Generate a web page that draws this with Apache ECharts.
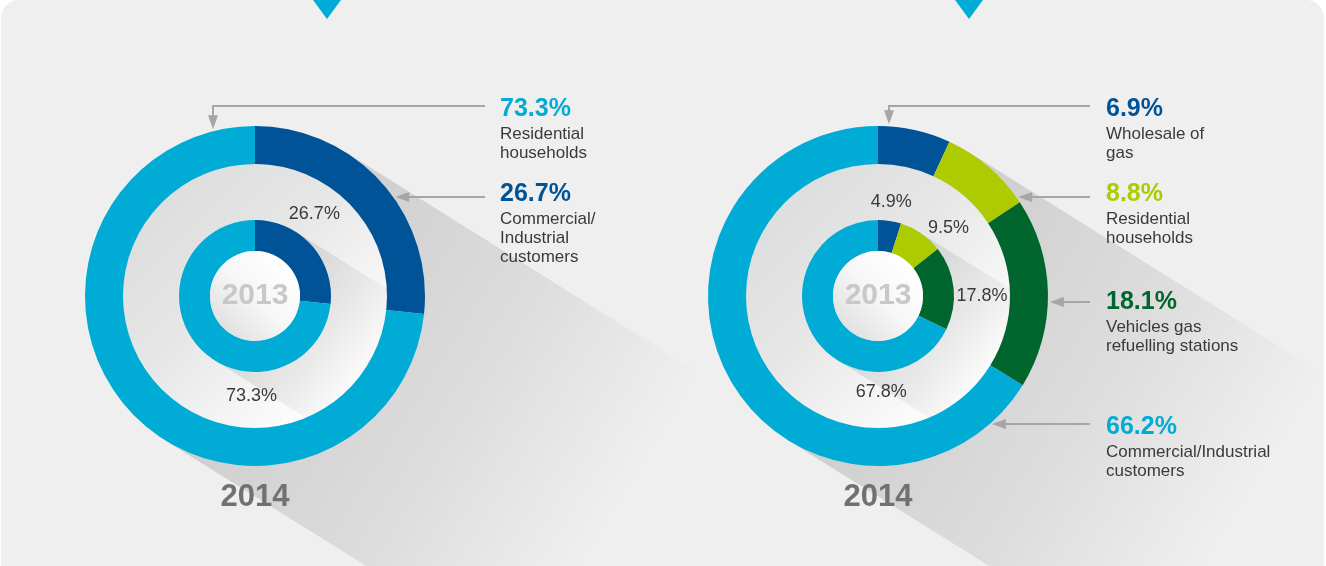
<!DOCTYPE html>
<html>
<head>
<meta charset="utf-8">
<script src="https://cdn.jsdelivr.net/npm/echarts@6/dist/echarts.min.js"></script>
<style>
  html, body { margin: 0; padding: 0; background: #fff; }
  #chart { width: 1326px; height: 566px; }
</style>
</head>
<body>
<div id="chart"></div>
<script>
// gas sales by customer type (left) and by business segment (right), % of total
const leftCategories = ['Commercial/\nIndustrial\ncustomers', 'Residential\nhouseholds']
const left2014 = [26.7, 73.3]
const left2013 = [26.7, 73.3]

const rightCategories = ['Wholesale of\ngas', 'Residential\nhouseholds', 'Vehicles gas\nrefuelling stations', 'Commercial/Industrial\ncustomers']
const right2014 = [6.9, 8.8, 18.1, 66.2]
const right2013 = [4.9, 9.5, 17.8, 67.8]

const years = ['2013', '2014']

const CYAN = '#00acd5'
const leftColors = ['#005396', CYAN]
const rightColors = ['#005396', '#adcb00', '#00662d', CYAN]

const R_OUT = [132, 170]
const R_IN = [45, 76]
const SHADOW_ANGLE = 32 * Math.PI / 180

const charts = [{
  center: [255, 296], cats: leftCategories, v14: left2014, v13: left2013, colors: leftColors,
  textX: 500, lineX: 485, triX: 327,
  callouts: [{ i: 1, y: 106, ty: 109, elbowX: 213 }, { i: 0, y: 197, ty: 194 }],
  labelPos: [[36, 101], [182, 100]]
}, {
  center: [878, 296], cats: rightCategories, v14: right2014, v13: right2013, colors: rightColors,
  textX: 1106, lineX: 1090, triX: 969,
  callouts: [{ i: 0, y: 106, ty: 109, elbowX: 889 }, { i: 1, y: 197, ty: 194 },
    { i: 2, y: 302, ty: 302 }, { i: 3, y: 424, ty: 427 }],
  labelPos: [[8, 95], [46, 98], [90, 104], [178, 96]]
}]

const FONT = '"Liberation Sans", Arial, sans-serif'
const ARROW = '#a6a6a6'

const longShadow = (cx, cy, r, len, alpha, z) => {
  const dx = Math.cos(SHADOW_ANGLE), dy = Math.sin(SHADOW_ANGLE)
  const nx = Math.sin(SHADOW_ANGLE), ny = -Math.cos(SHADOW_ANGLE)
  return {
    type: 'polygon', z, silent: true,
    shape: { points: [
      [cx + r * nx, cy + r * ny], [cx + r * nx + len * dx, cy + r * ny + len * dy],
      [cx - r * nx + len * dx, cy - r * ny + len * dy], [cx - r * nx, cy - r * ny]
    ] },
    style: { fill: {
      type: 'linear', global: true, x: cx, y: cy, x2: cx + len * dx, y2: cy + len * dy,
      colorStops: [
        { offset: 0, color: `rgba(0,0,0,${alpha})` },
        { offset: 0.55, color: `rgba(0,0,0,${alpha * 0.55})` },
        { offset: 1, color: 'rgba(0,0,0,0)' }
      ]
    } }
  }
}

const graphic = [{
  type: 'rect', z: 1, silent: true,
  shape: { x: 1, y: 0, width: 1323, height: 600, r: 18 },
  style: { fill: '#efefef' }
}]
const series = []

charts.forEach((c) => {
  const [cx, cy] = c.center
  graphic.push({
    type: 'polygon', z: 2, silent: true,
    shape: { points: [[c.triX - 14, 0], [c.triX + 14, 0], [c.triX, 19]] },
    style: { fill: CYAN }
  })
  graphic.push(longShadow(cx, cy, R_OUT[1], 420, 0.14, 2))
  graphic.push({
    type: 'circle', z: 3, silent: true,
    shape: { cx, cy, r: R_OUT[0] + 1 },
    style: { fill: {
      type: 'linear', global: true, x: cx - 110, y: cy - 110, x2: cx + 95, y2: cy + 95,
      colorStops: [{ offset: 0, color: '#dbdcdc' }, { offset: 0.45, color: '#e6e6e6' }, { offset: 1, color: '#ffffff' }]
    } }
  })
  graphic.push(longShadow(cx, cy, R_IN[1], 150, 0.1, 4))
  graphic.push({
    type: 'circle', z: 11, silent: true,
    shape: { cx, cy, r: R_IN[0] },
    style: { fill: {
      type: 'linear', global: true, x: cx + 30, y: cy - 30, x2: cx - 40, y2: cy + 40,
      colorStops: [{ offset: 0, color: '#ffffff' }, { offset: 0.45, color: '#f6f6f6' }, { offset: 1, color: '#dcdcdc' }]
    } }
  })
  graphic.push({
    type: 'text', z: 12, silent: true,
    style: { text: years[0], x: cx, y: cy, align: 'center', verticalAlign: 'middle',
      fontFamily: FONT, fontWeight: 'bold', fontSize: 30, fill: '#c8c8c8' }
  })
  graphic.push({
    type: 'text', z: 12, silent: true,
    style: { text: years[1], x: cx, y: 497, align: 'center', verticalAlign: 'middle',
      fontFamily: FONT, fontWeight: 'bold', fontSize: 31, fill: '#717171' }
  })

  // callouts: arrow to the outer ring, value and category
  c.callouts.forEach((co) => {
    if (co.elbowX !== undefined) {
      const tipY = cy - Math.sqrt(R_OUT[1] ** 2 - (co.elbowX - cx) ** 2) - 2
      graphic.push({
        type: 'polyline', z: 12, silent: true,
        shape: { points: [[c.lineX, co.y], [co.elbowX, co.y], [co.elbowX, tipY - 12]] },
        style: { stroke: ARROW, lineWidth: 2, fill: null }
      })
      graphic.push({
        type: 'polygon', z: 12, silent: true,
        shape: { points: [[co.elbowX - 5, tipY - 14], [co.elbowX + 5, tipY - 14], [co.elbowX, tipY]] },
        style: { fill: ARROW }
      })
    } else {
      const tipX = cx + Math.sqrt(R_OUT[1] ** 2 - (co.y - cy) ** 2) + 2
      graphic.push({
        type: 'line', z: 12, silent: true,
        shape: { x1: c.lineX, y1: co.y, x2: tipX + 12, y2: co.y },
        style: { stroke: ARROW, lineWidth: 2 }
      })
      graphic.push({
        type: 'polygon', z: 12, silent: true,
        shape: { points: [[tipX + 14, co.y - 5], [tipX + 14, co.y + 5], [tipX, co.y]] },
        style: { fill: ARROW }
      })
    }
    graphic.push({
      type: 'text', z: 12, silent: true,
      style: { text: c.v14[co.i].toFixed(1) + '%', x: c.textX, y: co.ty, verticalAlign: 'middle',
        fontFamily: FONT, fontWeight: 'bold', fontSize: 25, fill: c.colors[co.i] }
    })
    graphic.push({
      type: 'text', z: 12, silent: true,
      style: { text: c.cats[co.i], x: c.textX, y: co.ty + 16, verticalAlign: 'top',
        fontFamily: FONT, fontSize: 17, lineHeight: 19, fill: '#3a3a3a' }
    })
  })

  const common = {
    type: 'pie', center: [cx, cy], z: 10, startAngle: 90, clockwise: true,
    avoidLabelOverlap: false, silent: true, animation: false,
    emphasis: { disabled: true }, labelLine: { show: false },
    itemStyle: { borderWidth: 0 }
  }
  series.push(Object.assign({}, common, {
    radius: R_OUT,
    label: { show: false },
    data: c.v14.map((v, i) => ({ name: c.cats[i], value: v, itemStyle: { color: c.colors[i] } }))
  }))
  series.push(Object.assign({}, common, {
    radius: R_IN,
    label: {
      show: true, position: 'outside', fontFamily: FONT, fontSize: 18, color: '#3a3a3a',
      formatter: (p) => p.value.toFixed(1) + '%'
    },
    labelLayout: (p) => {
      const [a, r] = c.labelPos[p.dataIndex]
      const rad = a * Math.PI / 180
      return { x: cx + r * Math.sin(rad), y: cy - r * Math.cos(rad), align: 'center', verticalAlign: 'middle' }
    },
    data: c.v13.map((v, i) => ({ name: c.cats[i], value: v, itemStyle: { color: c.colors[i] } }))
  }))
})

const chart = echarts.init(document.getElementById('chart'))
chart.setOption({ animation: false, graphic, series })
</script>
</body>
</html>
